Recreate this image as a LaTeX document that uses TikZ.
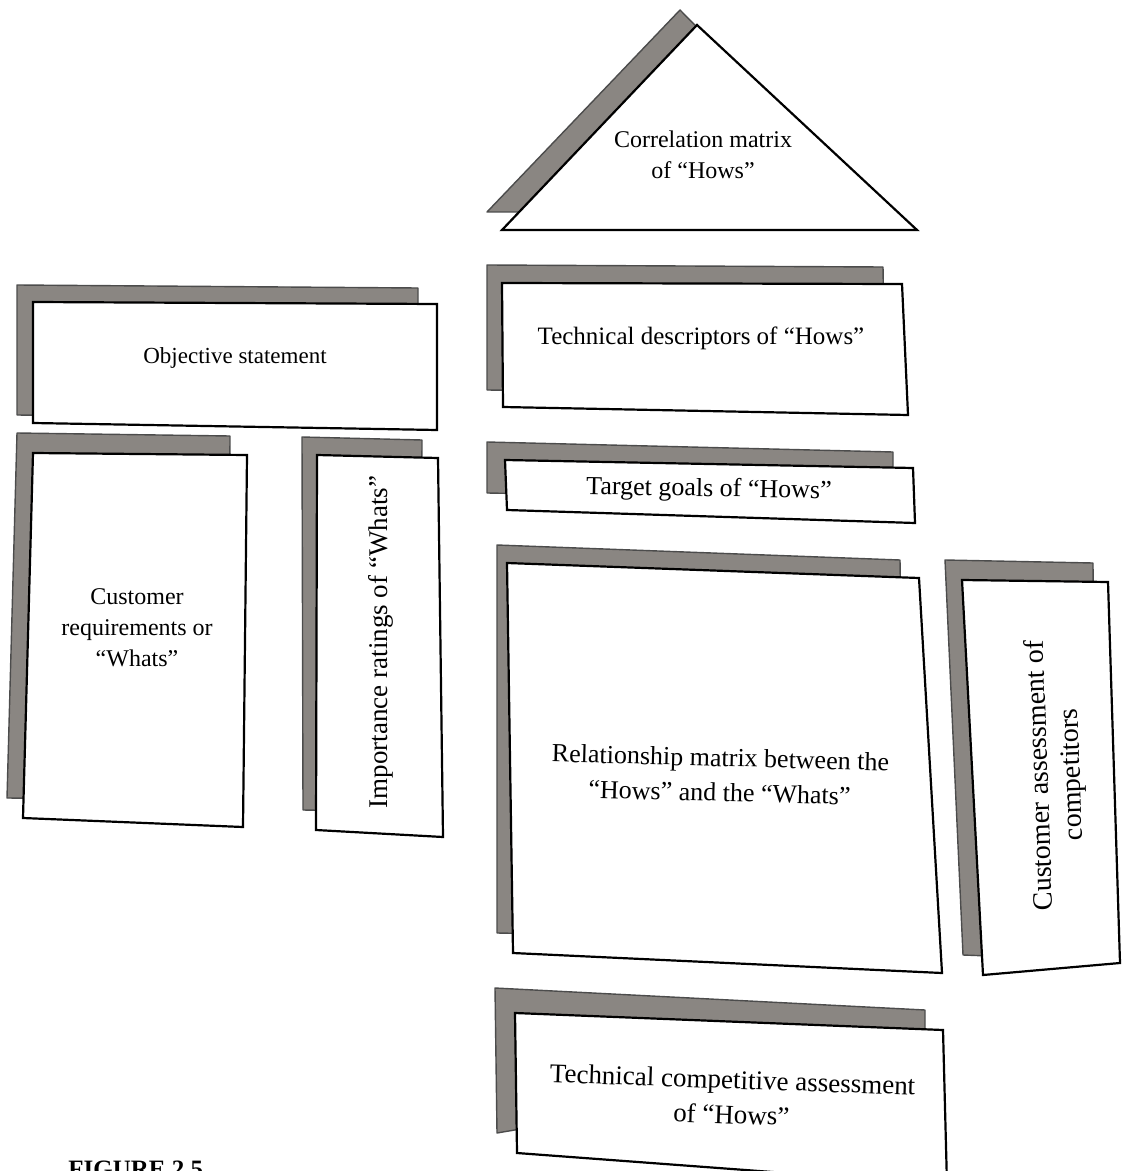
\documentclass[tikz,border=0pt]{standalone}
\usepackage{fontspec}
\setmainfont{Liberation Serif}
\definecolor{shadowgrey}{RGB}{138,134,130}
\tikzset{
	backdrop/.style = {
		fill=shadowgrey,
		draw=black!70,
		line width=0.7pt,
		line join=round
	},
	panel/.style = {
		fill=white,
		draw=black,
		line width=1.1pt,
		line join=miter
	},
	boxtext/.style = {
		align=center,
		inner sep=0pt,
		text centered,
		font=\fontsize{12}{15.5}\selectfont
	},
	boxtext_big/.style = {
		boxtext,
		font=\fontsize{13.5}{17.5}\selectfont
	},
	figcap/.style = {
		anchor=base west,
		inner sep=0pt,
		font=\fontsize{12.5}{15}\selectfont\bfseries
	},
}

\begin{document}
\begin{tikzpicture}[x=0.5pt, y=-0.5pt]
\useasboundingbox (0,0) rectangle (1123,1171);

% roof: correlation matrix
\draw[backdrop] (680,10) -- (487,212) -- (880,212) -- cycle;
\draw[panel] (697,25) -- (502,230) -- (917,230) -- cycle;
\node[boxtext] (roof) at (703,155) {Correlation matrix\\of “Hows”};

% left side
\draw[backdrop] (17,285) -- (418,288) -- (418,420) -- (17,415) -- cycle;
\draw[panel] (33,302) -- (437,304) -- (437,430) -- (33,423) -- cycle;
\node[boxtext, font=\fontsize{11.5}{15.5}\selectfont] (objective) at (235,358) {Objective statement};

\draw[backdrop] (17,433) -- (230,436) -- (228,800) -- (7,798) -- cycle;
\draw[panel] (33,453) -- (247,455) -- (243,827) -- (23,818) -- cycle;
\node[boxtext] (whats) at (137,628) {Customer\\requirements or\\“Whats”};

\draw[backdrop] (302,437) -- (422,440) -- (420,812) -- (303,810) -- cycle;
\draw[panel] (317,455) -- (438,458) -- (443,837) -- (316,830) -- cycle;
\node[boxtext_big, rotate=90] (ratings) at (381,642) {Importance ratings of “Whats”};

% right side
\draw[backdrop] (487,265) -- (883,267) -- (885,395) -- (487,390) -- cycle;
\draw[panel] (502,283) -- (902,284) -- (908,415) -- (503,407) -- cycle;
\node[boxtext, font=\fontsize{12.5}{16}\selectfont] (hows) at (701,338) {Technical descriptors of “Hows”};

\draw[backdrop] (487,442) -- (893,452) -- (893,500) -- (487,493) -- cycle;
\draw[panel] (505,460) -- (913,468) -- (915,523) -- (507,510) -- cycle;
\node[boxtext, font=\fontsize{13}{16}\selectfont, rotate=-1] (goals) at (709,490) {Target goals of “Hows”};

\draw[backdrop] (497,545) -- (900,560) -- (905,940) -- (497,933) -- cycle;
\draw[panel] (507,563) -- (919,578) -- (942,973) -- (513,953) -- cycle;
\node[boxtext, font=\fontsize{13}{17.5}\selectfont, rotate=-1.5] (relation) at (720,775) {Relationship matrix between the\\“Hows” and the “Whats”};

\draw[backdrop] (945,560) -- (1093,563) -- (1095,960) -- (963,955) -- cycle;
\draw[panel] (962,580) -- (1108,582) -- (1120,963) -- (983,975) -- cycle;
\node[boxtext_big, font=\fontsize{14}{16}\selectfont, rotate=92] (competitors) at (1057,775) {Customer assessment of\\competitors};

\draw[backdrop] (495,988) -- (925,1010) -- (925,1060) -- (497,1133) -- cycle;
\draw[panel] (515,1013) -- (943,1030) -- (947,1185) -- (517,1153) -- cycle;
\node[boxtext_big, rotate=-2] (benchmark) at (732,1097) {Technical competitive assessment\\of “Hows”};

% caption, cut off by the page edge
\node[figcap] (figcaption) at (68,1177) {FIGURE 2.5};
\end{tikzpicture}
\end{document}
